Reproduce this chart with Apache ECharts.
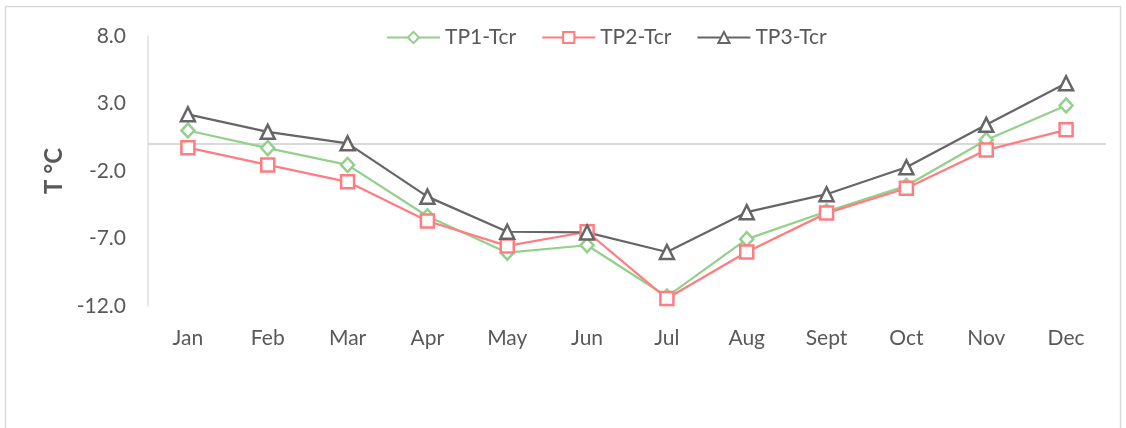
<!DOCTYPE html>
<html>
<head>
<meta charset="utf-8">
<script src="https://cdn.jsdelivr.net/npm/echarts@6/dist/echarts.min.js"></script>
<style>html,body{margin:0;padding:0;background:#fff}#c{width:1126px;height:428px}</style>
</head>
<body>
<div id="c"></div>
<script>
const categories = ['Jan','Feb','Mar','Apr','May','Jun','Jul','Aug','Sept','Oct','Nov','Dec'];
const tp1 = [1.0, -0.3, -1.55, -5.35, -8.05, -7.5, -11.3, -7.05, -5.0, -3.1, 0.3, 2.85];
const tp2 = [-0.27, -1.55, -2.8, -5.7, -7.55, -6.5, -11.45, -8.0, -5.12, -3.28, -0.45, 1.05];
const tp3 = [2.2, 0.9, 0.05, -3.9, -6.5, -6.55, -8.0, -5.05, -3.72, -1.72, 1.42, 4.5];
const yTicks = {min: -12, max: 8, interval: 5};

const txt = '#595959';
const font = 'Lato, "Open Sans", sans-serif';
const chart = echarts.init(document.getElementById('c'));
function ser(name, data, color, symbol, size) {
  return {
    name, type: 'line', data,
    symbol, symbolSize: size,
    lineStyle: {color, width: 2.25},
    itemStyle: {color: '#fff', borderColor: color, borderWidth: 2.5},
    emphasis: {disabled: true},
    z: 3
  };
}
const s1 = ser('TP1-Tcr', tp1, '#93d08c', 'diamond', [13, 14]);
const s2 = ser('TP2-Tcr', tp2, '#ff7c80', 'rect', 13);
const s3 = ser('TP3-Tcr', tp3, '#666666', 'triangle', 14);
s1.markLine = {
  silent: true, symbol: 'none', label: {show: false},
  lineStyle: {color: '#d9d9d9', width: 2, type: 'solid'},
  data: [{yAxis: 0}], z: 1
};
chart.setOption({
  animation: false,
  backgroundColor: '#fff',
  graphic: [{type: 'rect', shape: {x: 5.5, y: 6.5, width: 1115, height: 440},
    style: {fill: 'none', stroke: '#d9d9d9', lineWidth: 1.5}, z: -1}],
  grid: {left: 148, right: 20, top: 36, bottom: 122},
  legend: {
    left: 381, top: 22, itemWidth: 53, itemHeight: 14, itemGap: 25,
    textStyle: {color: txt, fontSize: 21, fontFamily: font},
    data: ['TP1-Tcr', 'TP2-Tcr', 'TP3-Tcr']
  },
  xAxis: {
    type: 'category', data: categories, boundaryGap: true,
    axisLine: {show: false, onZero: false}, axisTick: {show: false},
    axisLabel: {color: txt, fontSize: 21, fontFamily: font, margin: 22}
  },
  yAxis: {
    type: 'value', min: yTicks.min, max: yTicks.max, interval: yTicks.interval,
    name: 'T °C', nameLocation: 'middle', nameRotate: 90, nameGap: 75,
    nameTextStyle: {color: txt, fontSize: 24, fontWeight: 'bold', fontFamily: font},
    axisLine: {show: true, lineStyle: {color: '#e0e0e0', width: 1.5}},
    axisTick: {show: false}, splitLine: {show: false},
    axisLabel: {color: txt, fontSize: 21, fontFamily: font, margin: 22,
      formatter: v => v.toFixed(1)}
  },
  series: [s1, s2, s3]
});
</script>
</body>
</html>
